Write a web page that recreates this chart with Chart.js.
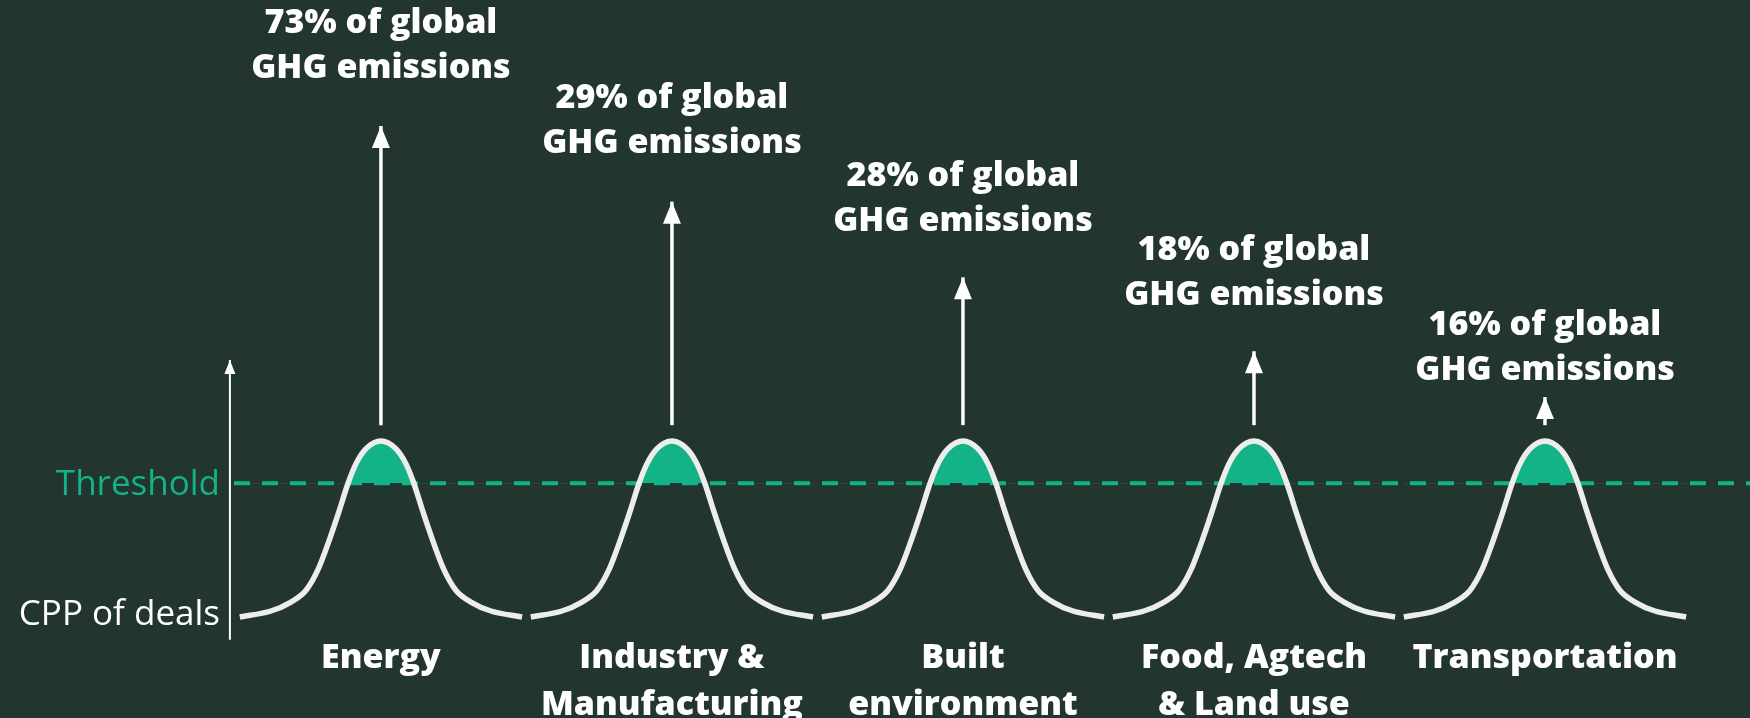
<!DOCTYPE html>
<html>
<head>
<meta charset="utf-8">
<script src="https://cdn.jsdelivr.net/npm/chart.js@4"></script>
<style>
  html, body { margin: 0; padding: 0; background: #22352f; }
  #wrap { width: 1750px; height: 718px; }
</style>
</head>
<body>
<div id="wrap"><canvas id="cpp" width="1750" height="718"></canvas></div>
<script>
// sectors along the x axis (centre of each bump at 0..4)
const sectors   = [["Energy"], ["Industry &", "Manufacturing"], ["Built", "environment"], ["Food, Agtech", "& Land use"], ["Transportation"]];
const ghgShare  = [73, 29, 28, 18, 16];
// arrow tips and first label line, in CPP units (curve peak = 100)
const arrowTop  = [279, 236, 193, 151, 125];
const labelTop  = [337.5, 294.5, 250.5, 208.5, 165.5];
const arrowBase = 109;
const threshold = 76;
const sectorLabelY = -23.2;
// one bump of the CPP curve: offset from sector centre and height
const bumpDx = [-0.485, -0.378, -0.309, -0.258, -0.216, -0.179, -0.144, -0.113, -0.086, -0.052, 0,
                0.052, 0.086, 0.113, 0.144, 0.179, 0.216, 0.258, 0.309, 0.378, 0.485];
const bumpY  = [0, 3.4, 8.5, 15, 27, 43, 60, 76, 87, 95.5, 100, 95.5, 87, 76, 60, 43, 27, 15, 8.5, 3.4, 0];

const GREEN = "#13b287";
const CURVE = "#ededed";

const bumps = sectors.map((s, i) => ({
  data: bumpDx.map((d, j) => ({ x: i + d, y: bumpY[j] })),
  borderColor: CURVE,
  borderWidth: 5.5,
  cubicInterpolationMode: "monotone",
  fill: { target: { value: threshold }, above: GREEN, below: "transparent" },
  order: 2
}));

const arrows = sectors.map((s, i) => ({
  data: [{ x: i, y: arrowBase }, { x: i, y: arrowTop[i] }],
  borderColor: "#ffffff",
  borderWidth: 3.5,
  arrowHead: { w: 18, h: 22 },
  order: 1
}));

const axisArrow = {
  data: [{ x: -0.519, y: -13 }, { x: -0.519, y: 146 }],
  borderColor: "#ffffff",
  borderWidth: 2,
  arrowHead: { w: 11, h: 14 },
  order: 1
};

const thresholdLine = {
  data: [{ x: -0.505, y: threshold }, { x: 4.71, y: threshold }],
  borderColor: GREEN,
  borderWidth: 4,
  borderDash: [16, 12],
  order: 5
};

const annotate = {
  id: "annotate",
  afterDatasetsDraw(chart) {
    const { ctx, scales: { x, y } } = chart;
    ctx.save();
    // arrow heads
    chart.data.datasets.forEach(ds => {
      if (!ds.arrowHead) return;
      const p = ds.data[ds.data.length - 1];
      const px = x.getPixelForValue(p.x), py = y.getPixelForValue(p.y);
      const { w, h } = ds.arrowHead;
      ctx.fillStyle = ds.borderColor;
      ctx.beginPath();
      ctx.moveTo(px, py);
      ctx.lineTo(px + w / 2, py + h);
      ctx.lineTo(px - w / 2, py + h);
      ctx.closePath();
      ctx.fill();
    });

    ctx.textAlign = "center";
    ctx.textBaseline = "middle";
    ctx.fillStyle = "#ffffff";
    ctx.font = '800 34px "Open Sans"';
    sectors.forEach((s, i) => {
      const px = x.getPixelForValue(i);
      const ty = y.getPixelForValue(labelTop[i]);
      ctx.fillText(ghgShare[i] + "% of global", px, ty);
      ctx.fillText("GHG emissions", px, ty + 45);
      const by = y.getPixelForValue(sectorLabelY);
      s.forEach((line, k) => ctx.fillText(line, px, by + k * 47));
    });

    ctx.textAlign = "right";
    ctx.font = '400 35px "Open Sans"';
    const lx = x.getPixelForValue(-0.553);
    ctx.fillStyle = GREEN;
    ctx.fillText("Threshold", lx, y.getPixelForValue(threshold - 0.8));
    ctx.fillStyle = "#ffffff";
    ctx.fillText("CPP of deals", lx, y.getPixelForValue(1));
    ctx.restore();
  }
};

new Chart(document.getElementById("cpp"), {
  type: "line",
  data: { datasets: [thresholdLine, ...bumps, ...arrows, axisArrow] },
  plugins: [annotate],
  options: {
    responsive: false,
    animation: false,
    layout: { padding: 0 },
    elements: { point: { radius: 0, hoverRadius: 0 } },
    scales: {
      x: { type: "linear", display: false, min: -1.309, max: 4.7045 },
      y: { type: "linear", display: false, min: -57.4, max: 350.6 }
    },
    plugins: { legend: { display: false }, tooltip: { enabled: false } },
    events: []
  }
});
</script>
</body>
</html>
